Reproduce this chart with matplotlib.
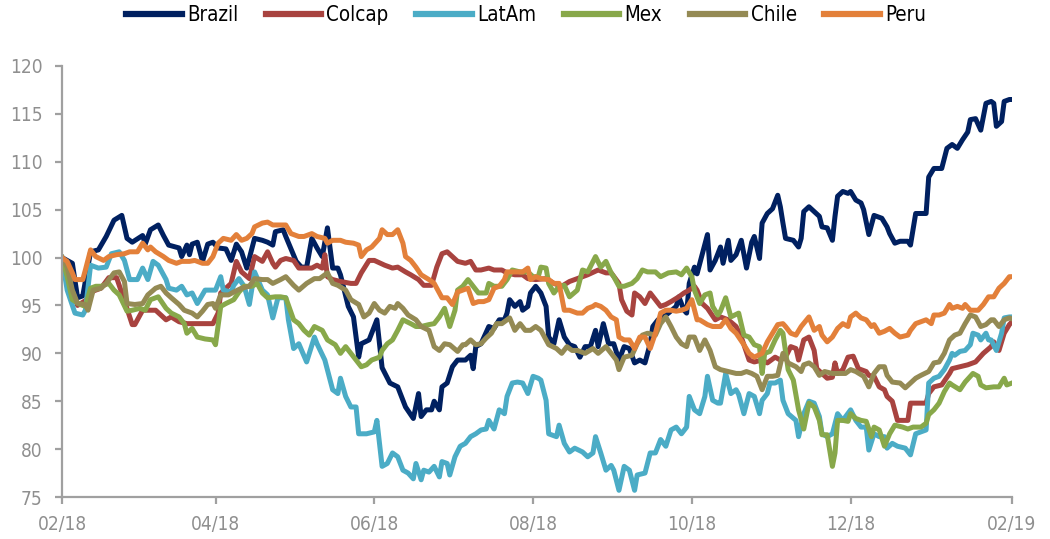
import matplotlib
matplotlib.use("Agg")
import matplotlib.pyplot as plt
import matplotlib.dates as mdates
import pandas as pd

START = "2018-02-01"
END = "2019-02-01"

brazil_day = [0,4,6,8,11,14,17,20,23,25,27,31,32,34,37,39,41,45,46,48,49,50,52,54,56,58,60,63,65,67,69,71,74,77,79,81,82,85,86,90,92,94,96,98,100,102,104,106,107,110,112,114,115,118,119,121,122,123,126,129,131,132,135,137,138,140,142,143,145,146,148,150,152,155,157,158,159,161,164,166,168,170,171,172,174,176,177,179,180,182,184,186,187,189,191,193,195,197,199,201,203,205,206,208,210,212,214,216,218,220,222,224,226,227,229,231,233,236,237,239,240,241,243,244,248,249,251,253,254,256,257,259,261,263,265,266,268,269,271,273,275,276,277,278,281,283,284,285,287,289,291,292,294,296,297,298,300,302,303,305,307,308,310,312,315,317,318,320,322,325,326,328,330,332,333,335,338,340,342,344,346,348,349,351,353,355,357,358,359,361,362,364,365]
brazil_val = [100,99.4,95.8,96.0,100.6,100.8,102.2,103.9,104.4,102.0,101.6,102.3,101.4,102.9,103.4,102.3,101.3,101.0,100.1,101.3,100.3,101.4,101.6,99.6,101.4,101.6,101.0,100.9,99.7,101.4,100.6,98.9,102.0,101.8,101.6,101.3,102.7,102.9,102.2,99.6,99.0,99.0,102.0,101.0,100.1,103.1,98.9,98.9,98.2,94.9,93.8,89.6,91.0,91.4,92.1,93.5,91.0,88.5,86.9,86.5,85.1,84.4,83.2,85.8,83.4,84.1,84.1,85.0,84.1,86.5,86.9,88.6,89.3,89.3,89.8,88.4,90.7,91.0,92.8,92.6,93.5,93.5,94.2,95.6,94.9,95.4,94.5,94.9,96.3,97.0,96.3,94.9,91.7,91.0,93.5,91.7,90.9,90.7,89.6,90.7,90.7,92.4,90.7,93.1,91.0,91.0,89.3,90.7,90.5,89.0,89.3,89.0,91.0,92.8,93.5,93.8,94.2,94.9,95.9,94.5,94.2,97.3,99.0,98.3,102.4,98.7,99.7,101.1,99.4,101.8,99.7,100.3,101.8,98.9,101.6,102.2,99.9,103.6,104.6,105.1,106.5,105.3,103.6,102.0,101.8,101.1,102.0,104.8,105.3,104.8,104.3,103.2,103.1,101.8,104.3,106.4,106.9,106.7,106.9,106.0,105.7,105.0,102.4,104.4,104.1,103.2,102.5,101.5,101.7,101.7,101.3,104.6,104.6,104.6,108.4,109.3,109.3,111.4,111.8,111.4,112.3,113.1,114.4,114.5,113.3,116.1,116.3,116.1,113.7,114.2,116.3,116.5,116.5]

colcap_day = [0,2,4,6,9,12,15,18,21,24,27,28,31,36,40,42,45,48,53,58,60,61,65,67,69,72,74,77,79,81,82,84,86,89,91,93,96,98,100,101,102,104,107,111,113,115,118,120,124,127,129,132,134,137,139,142,144,146,148,150,152,155,157,159,161,164,166,169,171,174,177,179,182,186,189,192,195,198,202,206,209,211,214,215,217,219,220,222,224,226,228,230,232,234,237,239,241,243,244,246,248,251,253,256,259,261,264,266,269,271,274,276,278,280,282,283,285,287,289,290,292,294,296,297,298,300,302,304,306,309,310,312,314,316,317,319,321,325,326,332,333,335,338,341,342,345,348,351,354,357,358,360,362,364,365]
colcap_val = [100,97.3,96.5,95.0,95.5,96.5,96.8,97.9,97.9,95.5,93.0,93.0,94.5,94.5,93.5,93.8,93.3,93.1,93.1,93.1,94.2,96.3,97.3,99.6,98.5,97.8,100.1,99.6,100.6,99.4,99.0,99.7,99.9,99.7,98.9,98.9,98.9,99.2,98.9,100.3,98.0,97.7,97.5,97.3,97.3,98.4,99.7,99.7,99.2,98.9,99.0,98.5,98.2,97.7,97.1,97.1,99.0,100.4,100.6,100.1,99.6,99.4,99.6,98.7,98.7,98.9,98.7,98.7,98.4,98.2,98.2,97.8,97.7,97.8,97.3,97.0,97.5,97.8,98.2,98.7,98.4,98.4,97.3,95.6,94.4,94.0,96.3,95.9,95.2,96.3,95.6,94.9,95.1,95.4,95.9,96.3,96.6,97.0,96.6,95.2,94.7,93.5,93.8,93.5,92.8,91.7,89.3,89.1,89.3,89.0,89.6,89.3,89.6,90.7,90.5,89.3,91.4,91.7,90.3,88.4,87.9,87.4,87.5,89.0,87.9,88.3,89.6,89.7,88.4,88.1,87.7,87.6,86.5,86.2,85.5,85.0,83.0,83.0,84.8,84.8,85.8,86.5,86.7,87.9,88.4,88.6,88.8,89.1,90.0,90.7,91.2,90.3,92.1,93.0,93.3]

latam_day = [0,2,5,8,9,11,14,17,19,22,24,26,29,31,33,35,37,40,41,44,46,48,50,52,55,58,59,61,62,65,66,68,70,72,74,77,79,81,83,86,87,89,91,94,97,98,101,104,106,107,109,111,113,114,117,120,121,122,123,125,127,129,131,133,135,136,138,139,141,143,145,146,148,149,151,153,155,157,159,161,163,164,166,168,170,171,173,175,177,179,181,183,184,186,187,190,191,193,195,197,200,202,204,205,207,209,211,212,214,216,218,220,221,224,226,228,230,232,234,236,238,240,241,243,245,247,248,250,252,253,255,257,259,260,262,264,266,268,269,271,272,274,276,277,279,282,283,285,287,289,291,292,294,296,298,300,303,305,307,309,310,312,314,316,317,319,321,324,326,328,330,332,333,335,337,339,341,342,343,345,347,349,350,352,353,355,356,357,359,361,362,364,365]
latam_val = [100,96.6,94.2,94.0,94.5,99.2,98.9,99.0,100.4,100.6,99.7,97.7,97.7,98.9,97.7,99.6,99.2,97.7,96.8,96.6,97.0,96.1,96.3,95.2,96.6,96.6,96.6,98.0,96.6,96.4,97.1,97.8,97.0,95.1,98.5,96.6,96.1,93.7,95.8,95.8,93.5,90.5,91.0,89.1,91.7,91.0,89.3,86.2,85.8,87.4,85.5,84.4,84.4,81.6,81.6,81.8,83.0,80.6,78.2,78.5,79.6,79.2,77.8,77.5,76.9,78.5,76.8,77.8,77.6,78.2,77.1,78.7,78.5,77.3,79.2,80.3,80.6,81.3,81.6,82.0,82.1,83.0,82.1,84.1,83.7,85.5,86.9,87.0,86.9,85.8,87.6,87.4,87.2,85.1,81.6,81.3,82.5,80.6,79.7,80.1,79.7,79.2,79.6,81.3,79.6,77.8,78.3,77.8,75.7,78.2,77.8,75.7,77.3,77.5,79.6,79.6,81.0,80.3,82.0,82.3,81.6,82.3,85.5,84.1,83.7,85.5,87.6,85.1,84.8,84.8,87.9,85.8,86.2,85.7,83.7,85.8,85.5,83.7,85.1,85.8,86.9,86.9,87.2,85.1,83.7,83.0,81.3,83.7,85.0,84.8,83.4,81.6,81.3,81.6,83.7,83.0,84.1,83.0,82.3,82.3,79.9,81.6,81.3,81.3,80.1,80.6,80.3,80.1,79.4,81.6,81.8,82.0,86.9,87.4,87.6,88.3,89.3,90.0,89.8,90.2,90.3,90.9,92.1,91.9,91.4,92.1,91.4,91.4,90.3,92.1,93.7,93.8,93.8]

mex_day = [0,2,4,7,9,11,13,15,18,20,22,25,27,30,32,34,37,40,42,45,47,48,50,52,55,58,59,61,63,66,68,70,73,75,77,79,82,84,86,89,91,93,95,97,100,102,105,107,109,111,113,115,117,119,122,123,125,127,129,131,134,136,138,141,143,145,147,149,151,152,154,156,158,160,163,164,166,169,171,173,176,179,181,183,184,186,187,189,191,193,195,198,200,202,205,207,209,211,212,214,216,219,221,223,225,228,230,233,236,238,240,242,243,245,247,249,250,252,253,255,257,260,262,264,266,268,269,270,272,274,276,277,279,281,283,285,287,289,291,292,294,296,297,298,300,302,303,305,307,309,311,312,314,316,318,320,323,325,327,330,332,333,335,337,339,341,342,345,347,350,352,353,355,358,360,362,363,365]
mex_val = [100,98.0,95.6,95.1,94.9,96.8,97.0,97.0,97.3,96.6,96.1,94.4,94.5,94.7,94.5,95.6,95.9,94.7,94.2,93.8,93.1,92.1,92.6,91.7,91.5,91.4,90.9,94.9,95.2,95.6,96.4,97.0,97.0,97.3,96.3,95.8,95.9,95.9,95.8,93.5,93.1,92.4,91.9,92.8,92.4,91.4,90.9,90.0,90.7,90.0,89.3,88.6,88.8,89.3,89.6,90.3,91.0,91.4,92.4,93.5,93.1,92.8,92.8,93.0,93.1,93.8,94.7,92.8,94.5,96.6,97.0,97.7,97.0,96.3,96.3,97.3,97.0,97.0,97.7,98.7,98.5,98.5,98.0,98.0,99.0,98.9,97.3,96.3,97.0,97.1,95.9,96.6,98.7,98.5,100.1,99.0,99.6,98.4,98.0,97.0,97.0,97.3,97.8,98.7,98.5,98.5,98.0,98.4,98.5,98.2,98.9,98.0,96.6,95.2,96.1,96.3,94.9,94.0,94.4,95.8,93.8,94.2,91.9,91.7,90.9,90.7,87.9,90.0,90.2,91.4,92.4,92.1,88.3,87.2,84.1,82.1,84.8,84.4,83.0,81.5,81.5,78.2,79.6,83.0,83.0,82.9,83.7,83.2,83.0,82.9,81.3,82.3,82.0,80.3,81.6,82.5,82.3,82.1,82.3,82.3,82.7,83.6,84.1,84.8,86.0,86.9,86.7,86.2,87.0,87.9,87.6,86.7,86.4,86.5,86.5,87.4,86.7,86.9]

chile_day = [0,2,4,6,9,10,12,15,17,20,22,24,25,28,31,33,36,38,40,42,45,47,50,52,54,56,58,59,61,64,66,69,72,74,77,79,81,84,86,89,91,94,97,99,102,104,106,109,111,114,116,118,120,122,124,126,128,129,131,133,136,138,141,143,145,147,149,152,154,155,157,159,161,163,165,167,169,171,172,174,176,178,180,182,184,186,187,190,192,194,196,198,201,204,206,209,211,213,214,216,219,221,223,225,228,230,232,234,236,238,240,241,243,245,247,249,251,253,256,259,261,263,265,267,269,271,273,275,277,279,282,284,285,287,289,291,293,296,298,301,303,305,308,310,312,314,316,317,319,322,324,326,328,330,333,335,337,339,341,343,345,347,349,351,353,355,357,358,360,362,364,365]
chile_val = [100,99.0,96.6,95.2,95.1,94.5,96.6,96.8,97.3,98.4,98.5,97.5,95.2,95.1,95.2,96.1,96.8,97.0,96.3,95.8,95.1,94.5,94.2,93.8,94.4,95.1,95.2,94.7,96.1,96.1,96.4,96.8,97.0,97.8,97.7,97.7,97.3,97.7,98.0,97.1,96.6,97.3,97.8,97.8,98.4,97.3,97.1,96.6,95.6,95.1,93.8,94.2,95.2,94.5,94.2,94.9,94.7,95.2,94.7,94.0,93.5,92.8,92.4,90.7,90.3,91.0,90.9,90.2,90.9,90.9,91.4,90.9,91.0,91.6,92.1,93.1,93.1,93.5,93.7,92.4,93.1,92.4,92.4,92.8,92.4,91.4,90.9,90.5,90.0,90.7,90.3,90.3,90.0,90.5,90.0,90.7,90.0,89.3,88.3,89.6,89.8,91.0,91.9,92.1,91.9,93.1,93.8,92.8,91.7,91.0,90.7,91.7,91.7,90.3,91.4,90.3,88.6,88.3,88.1,87.9,87.9,88.1,87.9,87.6,86.2,87.6,87.6,87.7,90.0,89.0,88.6,88.1,88.8,89.0,88.6,87.7,88.1,87.9,87.9,87.9,88.3,88.1,87.6,86.5,87.9,88.6,88.6,87.7,87.0,86.9,86.4,86.9,87.4,87.7,88.1,89.0,89.1,90.0,91.4,91.9,92.1,93.1,94.0,93.8,92.8,93.0,93.5,93.5,92.8,93.5,93.7,93.6]

peru_day = [0,2,4,5,8,9,11,13,16,18,21,24,26,29,31,33,34,36,39,41,44,46,49,51,54,56,58,60,62,65,67,69,71,73,74,77,79,81,84,86,88,91,93,96,98,101,102,104,107,109,112,114,115,117,119,122,123,125,127,129,131,132,134,136,138,141,143,145,146,148,150,152,154,156,158,160,162,164,166,168,170,171,174,177,179,180,182,184,187,189,191,193,195,198,200,202,204,205,207,209,211,213,214,216,218,220,222,224,226,228,230,232,234,236,238,240,242,244,245,248,250,253,255,257,259,262,264,266,269,271,273,275,277,278,280,282,284,287,289,291,292,294,296,298,300,302,303,305,307,309,311,312,314,316,318,320,322,325,326,328,330,332,334,335,337,339,341,342,344,346,347,349,352,354,356,358,360,362,364,365]
peru_val = [100,99.6,98.4,97.7,97.7,98.7,100.8,100.1,99.7,100.1,100.3,100.4,100.6,100.6,101.5,100.8,101.1,100.6,100.1,99.7,99.4,99.6,99.6,99.7,99.4,99.4,100.1,101.5,102.0,101.8,102.4,101.8,102.0,102.5,103.2,103.6,103.7,103.4,103.4,103.4,102.5,102.2,102.2,102.5,102.2,102.0,101.5,101.8,101.8,101.6,101.5,101.3,100.1,100.8,101.1,102.0,102.9,102.4,102.4,102.9,101.5,100.1,99.7,99.0,98.2,97.7,97.3,96.3,95.8,95.8,95.1,96.4,96.6,96.8,95.2,95.4,95.4,95.6,96.8,97.0,97.7,98.5,98.5,98.5,98.9,97.7,98.0,97.8,97.7,97.3,97.3,94.5,94.5,94.2,94.2,94.7,94.9,95.1,94.9,94.5,93.8,93.5,91.7,91.4,91.4,90.5,91.7,91.7,90.5,92.1,94.2,94.5,94.5,94.4,94.5,94.7,95.6,93.5,93.5,93.0,92.8,92.8,93.5,92.6,92.1,90.9,90.0,89.6,90.0,91.2,92.1,93.0,93.1,92.8,92.1,91.9,92.8,93.8,92.4,92.8,91.9,91.2,91.7,92.6,93.1,92.8,93.8,94.2,93.7,93.5,92.8,93.0,92.1,92.3,92.6,92.1,91.7,91.9,92.4,93.1,93.3,93.5,93.1,94.0,94.0,94.2,95.1,94.7,94.9,94.7,95.1,94.5,94.5,95.1,95.9,95.9,96.8,97.3,98.0,98.0]

series_names = ["Brazil", "Colcap", "LatAm", "Mex", "Chile", "Peru"]
series_days = [brazil_day, colcap_day, latam_day, mex_day, chile_day, peru_day]
series_vals = [brazil_val, colcap_val, latam_val, mex_val, chile_val, peru_val]
series_colors = ["#002060", "#A8433F", "#4BACC6", "#88A84A", "#948A54", "#E3803A"]
y_ticks = [75, 80, 85, 90, 95, 100, 105, 110, 115, 120]

plt.rcParams["font.family"] = ["DejaVu Sans"]
plt.rcParams["font.stretch"] = "condensed"

fig = plt.figure(figsize=(10.5, 5.39), dpi=100)
ax = fig.add_axes([0.059, 0.0779, 0.9048, 0.7997])

start = pd.Timestamp(START)
for name, days, vals, c in zip(series_names, series_days, series_vals, series_colors):
    dates = start + pd.to_timedelta(days, unit="D")
    ax.plot(dates, vals, color=c, lw=3.6, label=name, solid_joinstyle="round")

ax.set_xlim(start, pd.Timestamp(END))
ax.set_ylim(75, 120)
ax.set_yticks(y_ticks)
ax.xaxis.set_major_locator(mdates.MonthLocator(bymonth=[2, 4, 6, 8, 10, 12]))
ax.xaxis.set_major_formatter(mdates.DateFormatter("%m/%y"))

axis_col = "#A0A0A0"
for s in ["top", "right"]:
    ax.spines[s].set_visible(False)
for s in ["left", "bottom"]:
    ax.spines[s].set_color(axis_col)
    ax.spines[s].set_linewidth(1.6)
ax.tick_params(axis="both", colors=axis_col, width=1.6, length=5, labelcolor="#8F8F8F", labelsize=13.7)
ax.tick_params(axis="x", pad=8)
ax.tick_params(axis="y", pad=9)

leg = fig.legend(loc="center", bbox_to_anchor=(0.501, 0.972), ncol=6, frameon=False,
                 fontsize=14.8, handlelength=2.7, handletextpad=0.25, columnspacing=1.35)
for line in leg.get_lines():
    line.set_linewidth(4.5)

fig.savefig("out.png", dpi=100)
